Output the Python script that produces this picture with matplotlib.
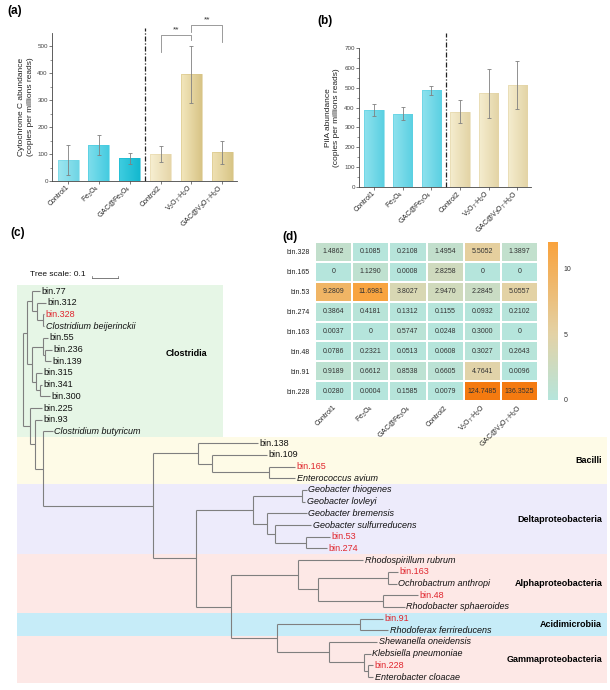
import numpy as np
import matplotlib
matplotlib.use('Agg')
import matplotlib.pyplot as plt
from matplotlib.colors import LinearSegmentedColormap, Normalize
from matplotlib.patches import Rectangle

plt.rcParams['font.family'] = ['Liberation Sans', 'DejaVu Sans']
plt.rcParams['mathtext.fontset'] = 'custom'
plt.rcParams['mathtext.rm'] = 'Liberation Sans'
plt.rcParams['mathtext.it'] = 'Liberation Sans:italic'
plt.rcParams['mathtext.bf'] = 'Liberation Sans:bold'

# ---------------- data ----------------
groups = ['Control1', 'Fe$_3$O$_4$', 'GAC@Fe$_3$O$_4$', 'Control2',
          'V$_3$O$_7$·H$_2$O', 'GAC@V$_3$O$_7$·H$_2$O']

cytc_mean = [78, 133, 84, 99, 396, 106]
cytc_err = [54, 38, 19, 30, 105, 42]

pila_mean = [389, 369, 486, 378, 471, 515]
pila_err = [31, 32, 22, 58, 121, 121]

bins = ['bin.328', 'bin.165', 'bin.53', 'bin.274', 'bin.163', 'bin.48', 'bin.91', 'bin.228']
abund = [
    [1.4862, 0.1085, 0.2108, 1.4954, 5.5052, 1.3897],
    [0, 1.1290, 0.0008, 2.8258, 0, 0],
    [9.2809, 11.6981, 3.8027, 2.9470, 2.2845, 5.0557],
    [0.3864, 0.4181, 0.1312, 0.1155, 0.0932, 0.2102],
    [0.0037, 0, 0.5747, 0.0248, 0.3000, 0],
    [0.0786, 0.2321, 0.0513, 0.0608, 0.3027, 0.2643],
    [0.9189, 0.6612, 0.8538, 0.6605, 4.7641, 0.0096],
    [0.0280, 0.0004, 0.1585, 0.0079, 124.7485, 136.3525],
]

# tree: leaf = (name, depth), node = (depth, [children]); depth in tree units
tree = (0.0, [
    (0.015, [
        (0.035, [
            ('bin.77', 0.065),
            (0.054, [('bin.312', 0.088),
                     (0.077, [('bin.328', 0.081), ('Clostridium beijerinckii', 0.081)])]),
        ]),
        (0.035, [
            (0.077, [('bin.55', 0.096), (0.085, [('bin.236', 0.112), ('bin.139', 0.108)])]),
            (0.050, [('bin.315', 0.073), (0.065, [('bin.341', 0.073), ('bin.300', 0.104)])]),
        ]),
    ]),
    (0.027, [
        ('bin.225', 0.073),
        (0.046, [
            ('bin.93', 0.073),
            (0.077, [
                ('Clostridium butyricum', 0.115),
                (0.500, [
                    (0.673, [('bin.138', 0.904),
                             (0.727, [('bin.109', 0.938),
                                      (0.946, [('bin.165', 1.046), ('Enterococcus avium', 1.046)])])]),
                    (0.665, [
                        (0.885, [
                            (1.073, [('Geobacter thiogenes', 1.092), ('Geobacter lovleyi', 1.085)]),
                            (0.938, [('Geobacter bremensis', 1.092),
                                     (0.969, [('Geobacter sulfurreducens', 1.108),
                                              (1.088, [('bin.53', 1.181), ('bin.274', 1.169)])])]),
                        ]),
                        (0.800, [
                            (1.058, [('Rhodospirillum rubrum', 1.308),
                                     (1.135, [(1.404, [('bin.163', 1.442), ('Ochrobactrum anthropi', 1.438)]),
                                              (1.385, [('bin.48', 1.519), ('Rhodobacter sphaeroides', 1.469)])])]),
                            (0.977, [
                                (1.296, [('bin.91', 1.385), ('Rhodoferax ferrireducens', 1.404)]),
                                (1.177, [('Shewanella oneidensis', 1.362),
                                         (1.312, [('Klebsiella pneumoniae', 1.338),
                                                  (1.327, [('bin.228', 1.346), ('Enterobacter cloacae', 1.346)])])]),
                            ]),
                        ]),
                    ]),
                ]),
            ]),
        ]),
    ]),
])

clades = ['Clostridia', 'Bacilli', 'Deltaproteobacteria', 'Alphaproteobacteria',
          'Acidimicrobiia', 'Gammaproteobacteria']
clade_first = [0, 13, 17, 23, 28, 30]
clade_last = [12, 16, 22, 27, 29, 33]
clade_colors = ['#e6f6e6', '#fefbe7', '#edebfb', '#fde8e6', '#c6ecf8', '#fde8e6']

# ---------------- layout helpers ----------------
W, H = 610, 690
fig = plt.figure(figsize=(W / 100, H / 100), dpi=100)


def px_axes(x0, y0, x1, y1, **kw):
    return fig.add_axes([x0 / W, 1 - y1 / H, (x1 - x0) / W, (y1 - y0) / H], **kw)


def grad_bars(ax, vals, errs, light, dark, width):
    for i, v in enumerate(vals):
        b = ax.bar(i, v, width=width, color='none', edgecolor=dark[i], lw=0.4, zorder=2)[0]
        cm = LinearSegmentedColormap.from_list('g', [light[i], dark[i]])
        im = ax.imshow(np.linspace(0, 1, 50).reshape(1, -1), cmap=cm, aspect='auto',
                       extent=[i - width / 2, i + width / 2, 0, v], zorder=1)
        im.set_clip_path(b)
    ax.errorbar(range(len(vals)), vals, yerr=errs, fmt='none', ecolor='#808080',
                elinewidth=0.6, capsize=1.5, capthick=0.6, zorder=3)


def style_bar_axes(ax, ylim, step):
    ax.set_xlim(-0.52, len(groups) - 0.52)
    ax.set_ylim(0, ylim)
    ax.set_yticks(np.arange(0, ylim + 1, step))
    ax.set_yticks(np.arange(step / 2, ylim, step), minor=True)
    for s in ['top', 'right']:
        ax.spines[s].set_visible(False)
    for s in ['left', 'bottom']:
        ax.spines[s].set_color('#444')
        ax.spines[s].set_linewidth(0.6)
    ax.tick_params(axis='y', labelsize=4.5, length=2, width=0.5, pad=1, colors='#444')
    ax.tick_params(axis='y', which='minor', length=1.2, width=0.4, colors='#444')
    ax.tick_params(axis='x', labelsize=5, length=2, width=0.5, pad=2, colors='#444')
    ax.set_xticks(range(len(groups)))
    ax.set_xticklabels(groups, rotation=45, ha='right', va='center', rotation_mode='anchor',
                       color='#222')
    for t in ax.get_yticklabels():
        t.set_color('#444')
    ax.set_facecolor('none')


# ---------------- tree (c) ----------------
axt = fig.add_axes([0, 0, 1, 1], zorder=0)
axt.axis('off')
root_px, unit_px = 23, 260
leaf_y0, leaf_dy = 291, 11.7
axt.set_xlim(-root_px / unit_px, (W - root_px) / unit_px)
axt.set_ylim((H - leaf_y0) / leaf_dy, -leaf_y0 / leaf_dy)

band_left = -0.023
for k, name in enumerate(clades):
    right = 0.769 if name == 'Clostridia' else 2.245
    y0, y1 = clade_first[k] - 0.5, clade_last[k] + 0.5
    axt.add_patch(Rectangle((band_left, y0), right - band_left, y1 - y0,
                            facecolor=clade_colors[k], edgecolor='none', zorder=0))
    if name == 'Clostridia':
        axt.text(0.63, 5.3, name, fontsize=6.5, weight='bold', ha='center', va='center')
    else:
        axt.text(2.228, (y0 + y1) / 2, name, fontsize=6.5, weight='bold', ha='right', va='center')

leaves = []
tree_col = '#7f7f7f'


def draw(node, parent_depth):
    if isinstance(node[0], str):
        name, depth = node
        y = len(leaves)
        leaves.append(name)
        axt.text(depth + 0.006, y, name, fontsize=6.5, va='center', ha='left',
                 style='italic' if ' ' in name else 'normal',
                 color='#e0262e' if name in bins else '#111')
    else:
        depth, kids = node
        ys = [draw(k, depth) for k in kids]
        y = (ys[0] + ys[-1]) / 2
        axt.plot([depth, depth], [ys[0], ys[-1]], color=tree_col, lw=0.8, solid_capstyle='butt')
    axt.plot([parent_depth, depth], [y, y], color=tree_col, lw=0.8, solid_capstyle='butt')
    return y


draw(tree, 0.0)

# tree scale
fig.text(30 / W, 1 - 275 / H, 'Tree scale: 0.1', fontsize=6, ha='left', va='center', color='#111')
sx, sy = 0.265, -1.15
axt.plot([sx, sx + 0.1], [sy, sy], color='#666', lw=0.6)
axt.plot([sx, sx], [sy - 0.15, sy], color='#666', lw=0.5)
axt.plot([sx + 0.1, sx + 0.1], [sy - 0.15, sy], color='#666', lw=0.5)

# ---------------- (a) cytochrome c ----------------
axA = px_axes(52, 33, 237, 181, zorder=2)
grad_bars(axA, cytc_mean, cytc_err,
          ['#9ee6f0', '#7fdeec', '#3fcde0', '#f7efd2', '#f3e7bd', '#efe1b4'],
          ['#6fd5e5', '#45cbe0', '#14b8cf', '#e6d6a9', '#d8c486', '#d8c586'], 0.68)
style_bar_axes(axA, 550, 100)
axA.set_ylim(0, 550)
axA.set_ylabel('Cytochrome C abundance\n(copies per millions reads)', fontsize=6, color='#222',
               linespacing=1.2)
axA.yaxis.set_label_coords(-0.1, 0.5)
axA.axvline(2.5, ymin=0, ymax=1.035, color='#222', lw=0.9, dashes=(4, 1.5, 1, 1.5), clip_on=False)
br = '#8a8a8a'
axA.plot([3, 3, 4, 4], [480, 543, 543, 525], color=br, lw=0.6, clip_on=False)
axA.text(3.5, 548, '**', ha='center', va='bottom', fontsize=6, color='#333')
axA.plot([4, 4, 5, 5], [552, 580, 580, 515], color=br, lw=0.6, clip_on=False)
axA.text(4.5, 585, '**', ha='center', va='bottom', fontsize=6, color='#333')

# ---------------- (b) PilA ----------------
axB = px_axes(359, 48, 531, 187, zorder=2)
grad_bars(axB, pila_mean, pila_err,
          ['#8fe2ee', '#8fe2ee', '#8fe2ee', '#f5edcf', '#f5edcf', '#f5edcf'],
          ['#5bd0e2', '#5bd0e2', '#5bd0e2', '#e3d4a6', '#e3d4a6', '#e3d4a6'], 0.67)
style_bar_axes(axB, 700, 100)
axB.set_ylabel('PilA abundance\n(copies per millions reads)', fontsize=6, color='#222',
               linespacing=1.2)
axB.yaxis.set_label_coords(-0.11, 0.5)
axB.axvline(2.5, ymin=0, ymax=1.108, color='#222', lw=0.9, dashes=(4, 1.5, 1, 1.5), clip_on=False)

# ---------------- (d) heatmap ----------------
axH = px_axes(315, 242, 538, 401, zorder=2)
cmap = LinearSegmentedColormap.from_list('to', [(0, '#b5e5dc'), (5 / 12, '#e3d2a6'), (1, '#f9a23c')])
cmap.set_over('#f47a10')
norm = Normalize(0, 12)
arr = np.array(abund)
mesh = axH.pcolormesh(arr, cmap=cmap, norm=norm, edgecolors='white', linewidth=1.1)
axH.set_xlim(0, arr.shape[1])
axH.set_ylim(arr.shape[0], 0)
for r in range(arr.shape[0]):
    for c in range(arr.shape[1]):
        v = arr[r, c]
        axH.text(c + 0.5, r + 0.5, '0' if v == 0 else f'{v:.4f}', ha='center', va='center',
                 fontsize=5, color='#333')
axH.set_xticks(np.arange(arr.shape[1]) + 0.55)
axH.set_xticklabels(groups, rotation=45, ha='right', va='center', rotation_mode='anchor',
                    fontsize=5, color='#222')
axH.set_yticks(np.arange(arr.shape[0]) + 0.5)
axH.set_yticklabels(bins, fontsize=5, color='#222')
axH.tick_params(length=0, pad=4)
for s in axH.spines.values():
    s.set_visible(False)

cax = px_axes(548, 242, 558, 400, zorder=2)
cb = fig.colorbar(mesh, cax=cax, ticks=[0, 5, 10])
cb.outline.set_visible(False)
cax.tick_params(length=0, labelsize=5, pad=4, colors='#333')

# ---------------- panel labels ----------------
for lab, x, y in [('(a)', 15, 11), ('(b)', 325, 21), ('(c)', 18, 233), ('(d)', 290, 237)]:
    fig.text(x / W, 1 - y / H, lab, fontsize=8.5, weight='bold', ha='center', va='center')

fig.savefig('out.png', dpi=100)
